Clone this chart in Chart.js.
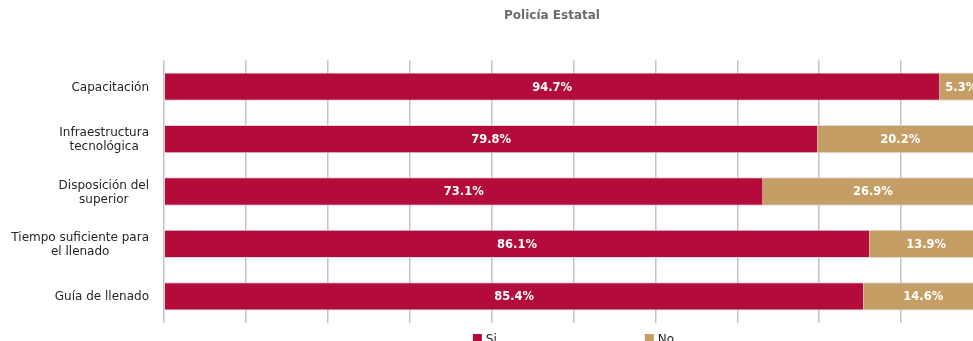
<!DOCTYPE html>
<html>
<head>
<meta charset="utf-8">
<script src="https://cdn.jsdelivr.net/npm/chart.js@4.4.1/dist/chart.umd.min.js"></script>
<style>
  html, body { margin: 0; padding: 0; overflow: hidden; background: #fff; }
  .wrap { width: 990px; height: 341px; }
</style>
</head>
<body>
<div class="wrap"><canvas id="myChart"></canvas></div>
<script>
const categories = [
  ['Capacitación'],
  ['Infraestructura', 'tecnológica'],
  ['Disposición del', 'superior'],
  ['Tiempo suficiente para', 'el llenado'],
  ['Guía de llenado']
];
const siValues = [94.7, 79.8, 73.1, 86.1, 85.4];
const noValues = [5.3, 20.2, 26.9, 13.9, 14.6];
const seriesNames = ['Si', 'No'];
const seriesColors = ['#B30C3B', '#C59E65'];
const chartTitle = 'Policía Estatal';

const FONT = '"DejaVu Sans", Verdana, sans-serif';

// white percentage labels in the middle of each segment
const barLabels = {
  id: 'barLabels',
  afterDatasetsDraw(chart) {
    const c = chart.ctx;
    c.save();
    c.font = 'bold 11.5px ' + FONT;
    c.fillStyle = '#fff';
    c.textAlign = 'center';
    c.textBaseline = 'middle';
    chart.data.datasets.forEach((ds, i) => {
      chart.getDatasetMeta(i).data.forEach((bar, j) => {
        const p = bar.getProps(['x', 'base', 'y'], true);
        c.fillText(ds.data[j].toFixed(1) + '%', (p.x + p.base) / 2, p.y + 1);
      });
    });
    c.restore();
  }
};

// category labels: each block right-aligned to the axis, its lines centred
const categoryLabels = {
  id: 'categoryLabels',
  afterDraw(chart) {
    const c = chart.ctx;
    const yScale = chart.scales.y;
    const right = chart.chartArea.left - 15;
    const lineH = 14;
    c.save();
    c.font = '12px ' + FONT;
    c.fillStyle = '#262626';
    c.textAlign = 'center';
    c.textBaseline = 'middle';
    chart.data.labels.forEach((lines, i) => {
      const w = Math.max(...lines.map(t => c.measureText(t).width));
      const cx = right - w / 2;
      const cy = yScale.getPixelForValue(i) - (lines.length - 1) * lineH / 2 + 1;
      lines.forEach((t, k) => c.fillText(t, cx, cy + k * lineH));
    });
    c.restore();
  }
};

// title and legend, both drawn by hand so they can sit off-centre like the original
const titleAndLegend = {
  id: 'titleAndLegend',
  afterDraw(chart) {
    const c = chart.ctx;
    const area = chart.chartArea;
    c.save();
    c.textBaseline = 'middle';

    c.font = 'bold 12px ' + FONT;
    c.fillStyle = '#6b6b6b';
    c.textAlign = 'center';
    c.fillText(chartTitle, 552, 16);

    c.textAlign = 'left';
    c.font = '12px ' + FONT;
    const box = 9, gap = 148;
    const widths = chart.data.datasets.map(ds => box + 4 + c.measureText(ds.label).width);
    const total = widths.reduce((a, b) => a + b, 0) + gap * (widths.length - 1);
    let x = (area.left + area.right) / 2 - total / 2;
    const y = 339;
    chart.data.datasets.forEach((ds, i) => {
      c.fillStyle = ds.backgroundColor;
      c.fillRect(x, y - 5, box, box);
      c.fillStyle = '#222';
      c.fillText(ds.label, x + box + 4, y + 1);
      x += widths[i] + gap;
    });
    c.restore();
  }
};

new Chart(document.querySelector('#myChart'), {
  type: 'bar',
  data: {
    labels: categories,
    datasets: [
      {
        label: seriesNames[0],
        data: siValues,
        backgroundColor: seriesColors[0],
        borderColor: '#d6d6d6',
        borderWidth: { top: 1, bottom: 1 },
        borderSkipped: false
      },
      {
        label: seriesNames[1],
        data: noValues,
        backgroundColor: seriesColors[1],
        borderColor: '#d6d6d6',
        borderWidth: { top: 1, bottom: 1 },
        borderSkipped: false
      }
    ]
  },
  options: {
    indexAxis: 'y',
    responsive: true,
    maintainAspectRatio: false,
    animation: false,
    datasets: {
      bar: { categoryPercentage: 1, barPercentage: 0.54 }
    },
    layout: {
      padding: { top: 60.5, left: 0, right: 7, bottom: 18.5 }
    },
    plugins: {
      legend: { display: false },
      tooltip: { enabled: false }
    },
    scales: {
      x: {
        stacked: true,
        min: 0,
        max: 100,
        ticks: { display: false, stepSize: 10 },
        grid: { color: '#c3c3c3', lineWidth: 1.5, drawTicks: false },
        border: { display: false }
      },
      y: {
        stacked: true,
        grid: { display: false },
        border: { display: false },
        afterFit(scale) { scale.width = 164; },
        ticks: { display: false }
      }
    }
  },
  plugins: [barLabels, categoryLabels, titleAndLegend]
});
</script>
</body>
</html>
